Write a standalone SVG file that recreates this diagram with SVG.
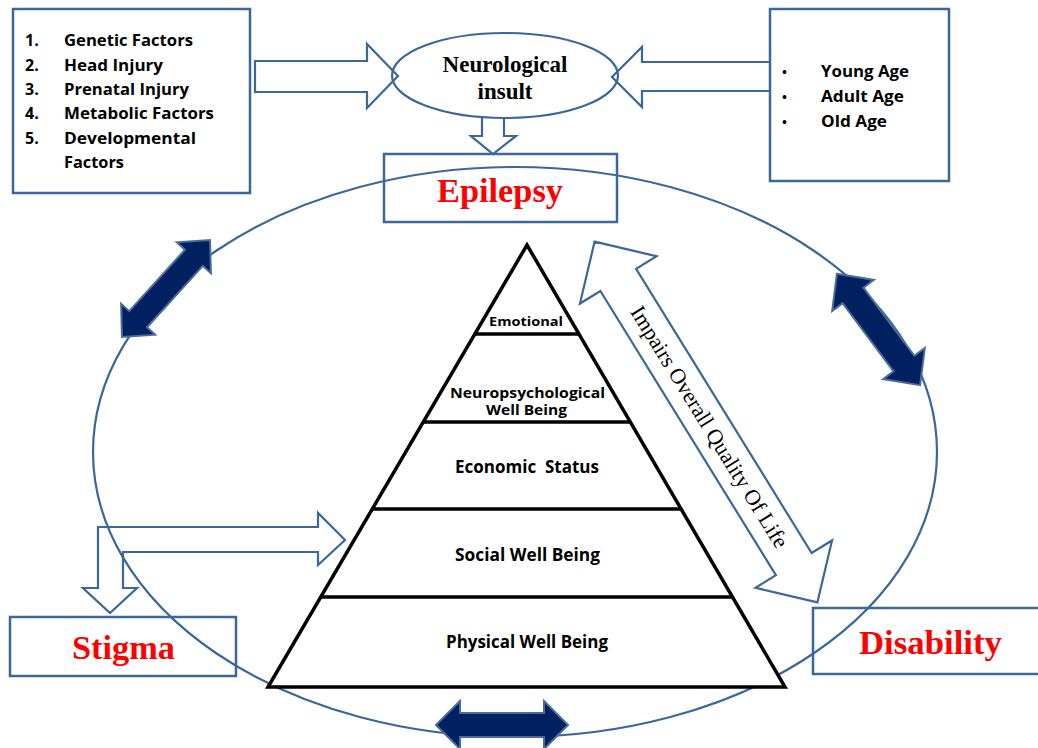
<svg xmlns="http://www.w3.org/2000/svg" width="1038" height="748" viewBox="0 0 1038 748">
<style>
.ol{fill:none;stroke:#3B679A;stroke-width:2.2;stroke-linejoin:miter}
.box{fill:none;stroke:#3B679A;stroke-width:2.5}
.navy{fill:#002060;stroke:#4A6C9C;stroke-width:2;stroke-linejoin:miter}
.pyr{fill:#fff;stroke:#000;stroke-width:3.5;stroke-linejoin:miter}
.pl{stroke:#000;stroke-width:3.5}
.s{font-family:"Open Sans","Liberation Sans",sans-serif;font-weight:700;fill:#000}
.t{font-family:"Liberation Serif","Times New Roman",serif;font-weight:700}
.red{fill:#FF0000;font-size:34px;text-anchor:middle}
.c{text-anchor:middle}
</style>
<rect width="1038" height="748" fill="#fff"/>

<g id="big-ellipse">
<ellipse cx="515" cy="452" rx="422" ry="285" class="ol"/>
</g>

<g id="connectors">
<path class="ol" d="M255,61 L367,61 L367,44 L398,76 L367,108 L367,92 L255,92 Z"/>
<path class="ol" d="M770,62 L642,62 L642,47 L612,77 L642,107 L642,91 L770,91"/>
<path class="ol" d="M482,117 L482,136 L471,136 L493,154 L516,136 L504,136 L504,117"/>
<path class="ol" d="M98,527 L318,527 L318,513 L345,540 L318,565 L318,552 L123,552 L123,588 L137,588 L110,613 L83,588 L98,588 Z"/>
<path class="navy" transform="translate(166,288.5) rotate(-47.8)" d="M-65.5,0 L-41.5,-23 L-41.5,-12 L41.5,-12 L41.5,-23 L65.5,0 L41.5,23 L41.5,12 L-41.5,12 L-41.5,23 Z"/>
<path class="navy" transform="translate(878.5,329.5) rotate(53.2)" d="M-69.5,0 L-42.5,-26 L-42.5,-13 L42.5,-13 L42.5,-26 L69.5,0 L42.5,26 L42.5,13 L-42.5,13 L-42.5,26 Z"/>
<path class="navy" transform="translate(502,725)" d="M-66,0 L-42,-24 L-42,-12 L42,-12 L42,-24 L66,0 L42,24 L42,12 L-42,12 L-42,24 Z"/>
<g transform="translate(706,422) rotate(58.3)">
<path class="ol" d="M-212,0 L-167,-45 L-167,-21 L167,-21 L167,-45 L212,0 L167,45 L167,21 L-167,21 L-167,45 Z"/>
<text x="6" y="7" class="c" font-family="'Liberation Serif','Times New Roman',serif" font-size="22" fill="#000" textLength="280" lengthAdjust="spacingAndGlyphs">Impairs Overall Quality Of Life</text>
</g>
</g>

<g id="causes">
<rect x="13" y="9" width="237" height="184" class="box"/>
<g class="s" font-size="16">
<text x="25" y="46">1.</text><text x="64" y="46" textLength="129" lengthAdjust="spacingAndGlyphs">Genetic Factors</text>
<text x="25" y="71">2.</text><text x="64" y="71" textLength="99" lengthAdjust="spacingAndGlyphs">Head Injury</text>
<text x="25" y="95">3.</text><text x="64" y="95" textLength="125" lengthAdjust="spacingAndGlyphs">Prenatal Injury</text>
<text x="25" y="119">4.</text><text x="64" y="119" textLength="150" lengthAdjust="spacingAndGlyphs">Metabolic Factors</text>
<text x="25" y="144">5.</text><text x="64" y="144" textLength="132" lengthAdjust="spacingAndGlyphs">Developmental</text>
<text x="64" y="168" textLength="60" lengthAdjust="spacingAndGlyphs">Factors</text>
</g>
</g>

<g id="neurological-insult">
<ellipse cx="505" cy="75.5" rx="113" ry="42.5" class="ol"/>
<text x="505" y="72" class="t c" font-size="23" fill="#000">Neurological</text>
<text x="505" y="99" class="t c" font-size="23" fill="#000">insult</text>
</g>

<g id="ages">
<rect x="770" y="9" width="179" height="172" class="box"/>
<g class="s" font-size="16">
<text x="782" y="77" font-size="13">•</text><text x="821" y="77" textLength="88" lengthAdjust="spacingAndGlyphs">Young Age</text>
<text x="782" y="102" font-size="13">•</text><text x="821" y="102" textLength="83" lengthAdjust="spacingAndGlyphs">Adult Age</text>
<text x="782" y="127" font-size="13">•</text><text x="821" y="127" textLength="66" lengthAdjust="spacingAndGlyphs">Old Age</text>
</g>
</g>

<g id="epilepsy">
<rect x="384" y="154" width="233" height="68" class="box"/>
<text x="500" y="202" class="t red" textLength="126" lengthAdjust="spacingAndGlyphs">Epilepsy</text>
</g>

<g id="pyramid">
<path class="pyr" d="M527,245 L785,687 L268,687 Z"/>
<line class="pl" x1="475" y1="334" x2="579" y2="334"/>
<line class="pl" x1="424" y1="422" x2="630" y2="422"/>
<line class="pl" x1="372" y1="509" x2="681" y2="509"/>
<line class="pl" x1="321" y1="597" x2="732" y2="597"/>
<g class="s c">
<text x="526" y="326" font-size="13" textLength="74" lengthAdjust="spacingAndGlyphs">Emotional</text>
<text x="527.5" y="398" font-size="14" textLength="155" lengthAdjust="spacingAndGlyphs">Neuropsychological</text>
<text x="526.5" y="415" font-size="14" textLength="81" lengthAdjust="spacingAndGlyphs">Well Being</text>
<text x="527" y="473" font-size="17" textLength="144" lengthAdjust="spacingAndGlyphs" xml:space="preserve">Economic  Status</text>
<text x="527.5" y="561" font-size="17" textLength="145" lengthAdjust="spacingAndGlyphs">Social Well Being</text>
<text x="527" y="648" font-size="17" textLength="162" lengthAdjust="spacingAndGlyphs">Physical Well Being</text>
</g>
</g>

<g id="stigma">
<rect x="10" y="617" width="226" height="59" class="box"/>
<text x="123.5" y="659" class="t red" textLength="103" lengthAdjust="spacingAndGlyphs">Stigma</text>
</g>

<g id="disability">
<rect x="813" y="608" width="240" height="66" class="box"/>
<text x="930.5" y="654" class="t red" textLength="143" lengthAdjust="spacingAndGlyphs">Disability</text>
</g>
</svg>
